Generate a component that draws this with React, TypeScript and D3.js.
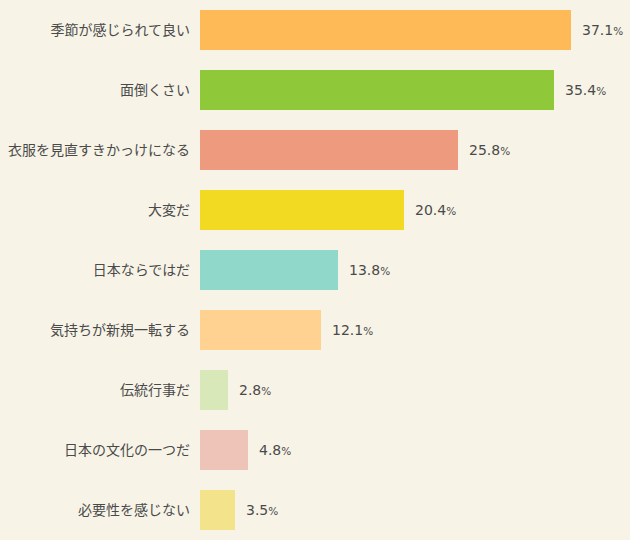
import React from "react";
import * as d3 from "d3";

const categories = [
  "季節が感じられて良い",
  "面倒くさい",
  "衣服を見直すきかっけになる",
  "大変だ",
  "日本ならではだ",
  "気持ちが新規一転する",
  "伝統行事だ",
  "日本の文化の一つだ",
  "必要性を感じない",
];
const values = [37.1, 35.4, 25.8, 20.4, 13.8, 12.1, 2.8, 4.8, 3.5];
const colors = [
  "#FFBA58",
  "#8FC838",
  "#EE9A7E",
  "#F2DA22",
  "#90D9CA",
  "#FFD292",
  "#D8E8B8",
  "#EEC4B8",
  "#F3E48C",
];

const W = 630;
const H = 540;

export default function App() {
  const x = d3.scaleLinear().domain([0, 10]).range([200, 300]);
  const y = d3
    .scaleBand<number>()
    .domain(d3.range(categories.length))
    .range([0, H])
    .paddingInner(1 / 3)
    .paddingOuter(1 / 6);
  return (
    <svg
      width={W}
      height={H}
      style={{ position: "absolute", left: 0, top: 0, background: "#F7F4E7" }}
    >
      <rect x={0} y={0} width={W} height={H} fill="#F7F4E7" />
      {categories.map((c, i) => {
        const yy = y(i)!;
        const cy = yy + y.bandwidth() / 2;
        return (
          <g key={c}>
            <rect
              x={x(0)}
              y={yy}
              width={x(values[i]) - x(0)}
              height={y.bandwidth()}
              fill={colors[i]}
            />
            <text
              x={190}
              y={cy}
              dy="0.36em"
              textAnchor="end"
              fontFamily="'Noto Sans CJK JP', sans-serif"
              fontSize={14}
              fill="#4a4a4a"
            >
              {c}
            </text>
            <text
              x={x(values[i]) + 11}
              y={cy}
              dy="0.36em"
              fontFamily="'DejaVu Sans', sans-serif"
              fontSize={14}
              fill="#4a4a4a"
            >
              {values[i].toFixed(1)}
              <tspan fontSize={10.5}>%</tspan>
            </text>
          </g>
        );
      })}
    </svg>
  );
}
